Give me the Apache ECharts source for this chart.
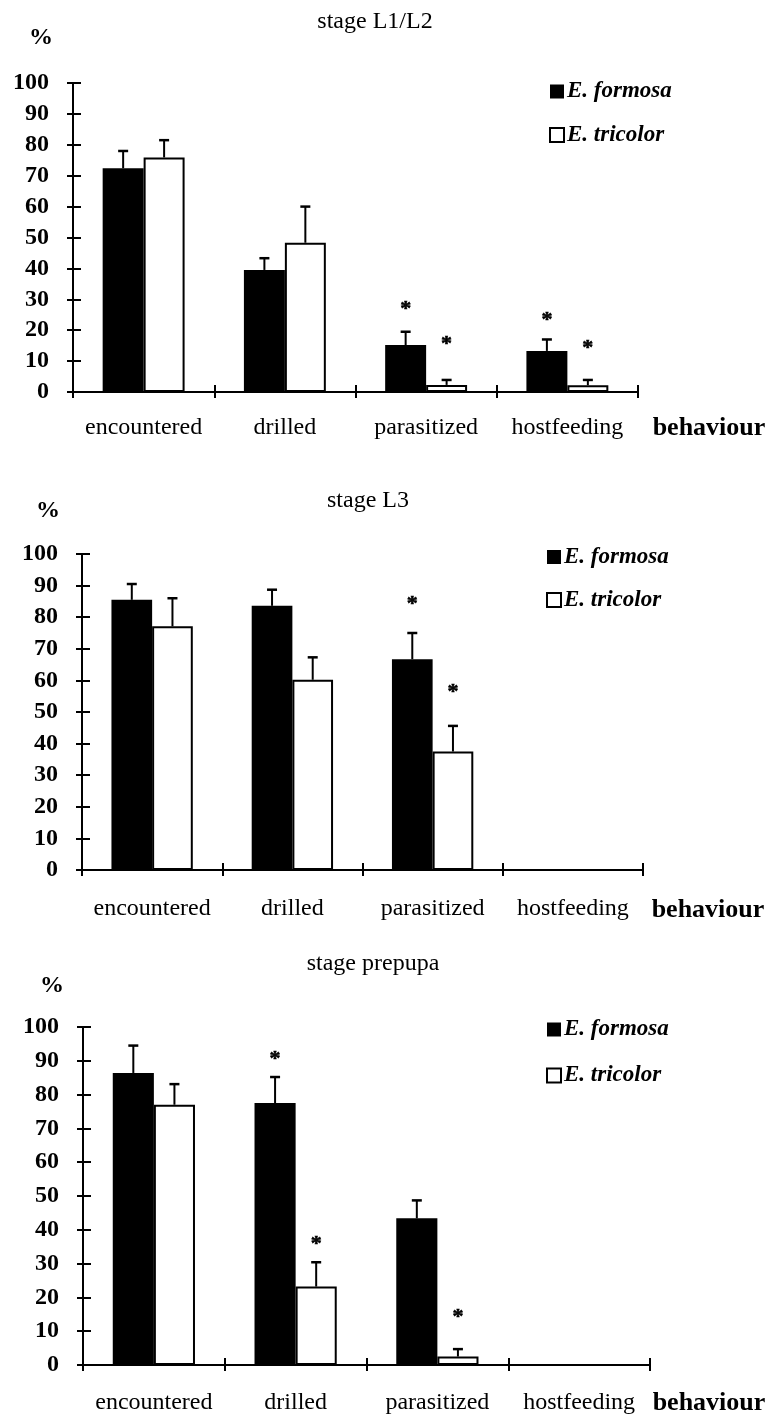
<!DOCTYPE html>
<html>
<head>
<meta charset="utf-8">
<script src="https://cdn.jsdelivr.net/npm/echarts@6/dist/echarts.min.js"></script>
<style>
html,body{margin:0;padding:0;background:#fff;}
#chart{width:779px;height:1419px;}
</style>
</head>
<body>
<div id="chart"></div>
<script>
// ---------- data ----------
const categories = ['encountered', 'drilled', 'parasitized', 'hostfeeding'];
const seriesNames = ['E. formosa', 'E. tricolor'];
const stageTitles = ['stage L1/L2', 'stage L3', 'stage prepupa'];
const yMin = 0, yMax = 100, yStep = 10;

// stage L1/L2
const l12Formosa      = [72.4, 39.5, 15.2, 13.3];
const l12FormosaErr   = [78.0, 43.3, 19.5, 17.0];
const l12Tricolor     = [75.9, 48.3, 2.3, 2.2];
const l12TricolorErr  = [81.5, 60.0, 3.9, 3.9];
const l12FormosaStar  = [null, null, 28.7, 25.0];
const l12TricolorStar = [null, null, 17.5, 16.0];

// stage L3
const l3Formosa      = [85.5, 83.6, 66.7, null];
const l3FormosaErr   = [90.5, 88.7, 75.0, null];
const l3Tricolor     = [77.1, 60.2, 37.5, null];
const l3TricolorErr  = [86.0, 67.3, 45.6, null];
const l3FormosaStar  = [null, null, 86.0, null];
const l3TricolorStar = [null, null, 58.0, null];

// stage prepupa
const prFormosa      = [86.4, 77.5, 43.4, null];
const prFormosaErr   = [94.5, 85.2, 48.7, null];
const prTricolor     = [77.0, 23.2, 2.5, null];
const prTricolorErr  = [83.1, 30.4, 4.7, null];
const prFormosaStar  = [null, 92.3, null, null];
const prTricolorStar = [null, 37.5, 15.8, null];

const panelsData = [
  [l12Formosa, l12FormosaErr, l12Tricolor, l12TricolorErr, l12FormosaStar, l12TricolorStar],
  [l3Formosa, l3FormosaErr, l3Tricolor, l3TricolorErr, l3FormosaStar, l3TricolorStar],
  [prFormosa, prFormosaErr, prTricolor, prTricolorErr, prFormosaStar, prTricolorStar]
];

// ---------- layout ----------
const SERIF = "'Liberation Serif', 'Times New Roman', serif";
const layout = [
  {grid:{left:73, top:83, width:565, height:309}, labelMargin:24, title:[375,22], pct:[41,38], beh:[709,428], legendTop:79.5, legendGap:19.5},
  {grid:{left:82, top:554, width:561, height:316}, labelMargin:27, title:[368,501], pct:[48,511], beh:[708,910], legendTop:545, legendGap:19},
  {grid:{left:83, top:1027, width:567, height:338}, labelMargin:26, title:[373,964], pct:[52,986], beh:[709,1403], legendTop:1017.5, legendGap:22}
];
const legendLeft = [549, 546, 546];
const BAR_FRAC = 0.29;

const grid = [], xAxis = [], yAxis = [], series = [], legend = [], graphic = [];

function errRender(params, api) {
  const cat = api.value(0), v = api.value(1), hi = api.value(2), s = api.value(3);
  const catW = api.size([1, 0])[0];
  const cx = api.coord([cat, 0])[0] + (s === 0 ? -1 : 1) * catW * BAR_FRAC / 2;
  const yb = api.coord([cat, v])[1];
  const yt = api.coord([cat, hi])[1];
  return {
    type: 'group',
    children: [
      {type:'line', shape:{x1:cx, y1:yb, x2:cx, y2:yt}, style:{stroke:'#000', lineWidth:2}},
      {type:'line', shape:{x1:cx-5, y1:yt, x2:cx+5, y2:yt}, style:{stroke:'#000', lineWidth:2.5}}
    ]
  };
}
function starRender(params, api) {
  const cat = api.value(0), y = api.value(1), s = api.value(2);
  const catW = api.size([1, 0])[0];
  const cx = api.coord([cat, 0])[0] + (s === 0 ? -1 : 1) * catW * BAR_FRAC / 2;
  const cy = api.coord([cat, y])[1];
  return {
    type: 'text',
    style: {x: cx, y: cy + 6, text: '*', fill: '#000', stroke:'#000', lineWidth:0.6, font: 'bold 22px ' + SERIF, align: 'center', verticalAlign: 'middle'}
  };
}

layout.forEach((L, i) => {
  const d = panelsData[i];
  grid.push(Object.assign({containLabel:false}, L.grid));
  const xi = 2*i, yi = 2*i;
  xAxis.push({
    type:'category', gridIndex:i, data:categories, boundaryGap:true,
    axisLine:{show:true, lineStyle:{color:'#000', width:2}},
    axisTick:{show:true, inside:false, length:6, lineStyle:{color:'#000', width:2}},
    axisLabel:{color:'#000', fontFamily:SERIF, fontSize:24, margin:L.labelMargin, interval:0},
    splitLine:{show:false}
  });
  xAxis.push({
    type:'category', gridIndex:i, data:categories, boundaryGap:true, position:'bottom',
    axisLine:{show:false},
    axisTick:{show:true, inside:true, length:7, lineStyle:{color:'#000', width:2}},
    axisLabel:{show:false}, splitLine:{show:false}
  });
  yAxis.push({
    type:'value', gridIndex:i, min:yMin, max:yMax, interval:yStep, position:'left',
    axisLine:{show:true, lineStyle:{color:'#000', width:2}},
    axisTick:{show:true, inside:false, length:6, lineStyle:{color:'#000', width:2}},
    axisLabel:{color:'#000', fontFamily:SERIF, fontSize:24, fontWeight:'bold', margin:24},
    splitLine:{show:false}
  });
  yAxis.push({
    type:'value', gridIndex:i, min:yMin, max:yMax, interval:yStep, position:'left',
    axisLine:{show:false},
    axisTick:{show:true, inside:true, length:8, lineStyle:{color:'#000', width:2}},
    axisLabel:{show:false}, splitLine:{show:false}
  });

  series.push({
    name: seriesNames[0], type:'bar', xAxisIndex:xi, yAxisIndex:yi,
    data: d[0], barWidth: (BAR_FRAC*100) + '%', barGap:'0%',
    itemStyle:{color:'#000', borderColor:'#000', borderWidth:0}
  });
  series.push({
    name: seriesNames[1], type:'bar', xAxisIndex:xi, yAxisIndex:yi,
    data: d[2], barWidth: (BAR_FRAC*100) + '%', barGap:'0%',
    itemStyle:{color:'#fff', borderColor:'#000', borderWidth:2}
  });

  const errData = [];
  categories.forEach((c, k) => {
    if (d[0][k] != null && d[1][k] != null) errData.push([k, d[0][k], d[1][k], 0]);
    if (d[2][k] != null && d[3][k] != null) errData.push([k, d[2][k], d[3][k], 1]);
  });
  series.push({
    name:'err'+i, type:'custom', xAxisIndex:xi, yAxisIndex:yi, renderItem:errRender,
    data:errData, z:5, silent:true
  });
  const starData = [];
  categories.forEach((c, k) => {
    if (d[4][k] != null) starData.push([k, d[4][k], 0]);
    if (d[5][k] != null) starData.push([k, d[5][k], 1]);
  });
  series.push({
    name:'star'+i, type:'custom', xAxisIndex:xi, yAxisIndex:yi, renderItem:starRender,
    data:starData, z:6, silent:true
  });

  legend.push({
    orient:'vertical', left:legendLeft[i], top:L.legendTop, padding:0,
    itemWidth:14, itemHeight:14, itemGap:L.legendGap, icon:'rect',
    textStyle:{color:'#000', fontFamily:SERIF, fontSize:23, fontWeight:'bold', fontStyle:'italic', lineHeight:24, padding:[0,0,0,-2]},
    selectedMode:false,
    data:[
      {name:seriesNames[0], itemStyle:{color:'#000', borderWidth:0}},
      {name:seriesNames[1], itemStyle:{color:'#fff', borderColor:'#000', borderWidth:2}}
    ]
  });

  graphic.push({type:'text', x:L.title[0], y:L.title[1], style:{text:stageTitles[i], font:'24px ' + SERIF, fill:'#000', align:'center', verticalAlign:'middle'}});
  graphic.push({type:'text', x:L.pct[0], y:L.pct[1], style:{text:'%', font:'bold 24px ' + SERIF, fill:'#000', align:'center', verticalAlign:'middle'}});
  graphic.push({type:'text', x:L.beh[0], y:L.beh[1], style:{text:'behaviour', font:'bold 26px ' + SERIF, fill:'#000', align:'center', verticalAlign:'middle'}});
});

const chart = echarts.init(document.getElementById('chart'), null, {renderer:'canvas'});
chart.setOption({
  animation:false,
  backgroundColor:'#fff',
  grid, xAxis, yAxis, series, legend, graphic
});
</script>
</body>
</html>
